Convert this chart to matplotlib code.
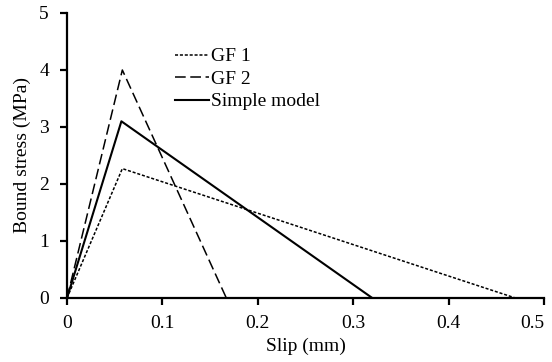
import matplotlib
matplotlib.use("Agg")
from matplotlib import pyplot as plt

plt.rcParams['font.family'] = ['Liberation Serif', 'DejaVu Serif']

gf1_x = [0, 0.058, 0.47]
gf1_y = [0, 2.27, 0]
gf2_x = [0, 0.058, 0.167]
gf2_y = [0, 4.0, 0]
simple_x = [0, 0.057, 0.32]
simple_y = [0, 3.1, 0]

fig = plt.figure(figsize=(5.52, 3.62), dpi=100)
ax = fig.add_axes([0.1214, 0.1768, 0.8641, 0.7873])

ax.plot(gf1_x, gf1_y, color='black', lw=1.1, ls=(0, (2, 1.2)), label='GF 1')
ax.plot(gf2_x, gf2_y, color='black', lw=1.1, ls=(0, (7, 3)), label='GF 2')
ax.plot(simple_x, simple_y, color='black', lw=1.5, label='Simple model')

ax.set_xlim(0, 0.5)
ax.set_ylim(0, 5)
ax.set_xticks([0, 0.1, 0.2, 0.3, 0.4, 0.5])
ax.set_xticklabels(['0', '0.1', '0.2', '0.3', '0.4', '0.5'])
ax.set_yticks([0, 1, 2, 3, 4, 5])
for s in ['top', 'right']:
    ax.spines[s].set_visible(False)
for s in ['left', 'bottom']:
    ax.spines[s].set_linewidth(1.6)
ax.tick_params(direction='out', length=5, width=1.6, labelsize=14)
ax.tick_params(axis='y', pad=8)
ax.tick_params(axis='x', pad=7)
ax.get_xticklabels()[-1].set_horizontalalignment('right')
ax.set_xlabel('Slip (mm)', fontsize=14, labelpad=4)
ax.set_ylabel('Bound stress (MPa)', fontsize=14, labelpad=6)

leg = ax.legend(loc='upper left', bbox_to_anchor=(0.21, 0.905), frameon=False, fontsize=14,
                handlelength=1.75, handletextpad=0.12, labelspacing=0.25, borderaxespad=0)

fig.savefig('out.png', dpi=100)
